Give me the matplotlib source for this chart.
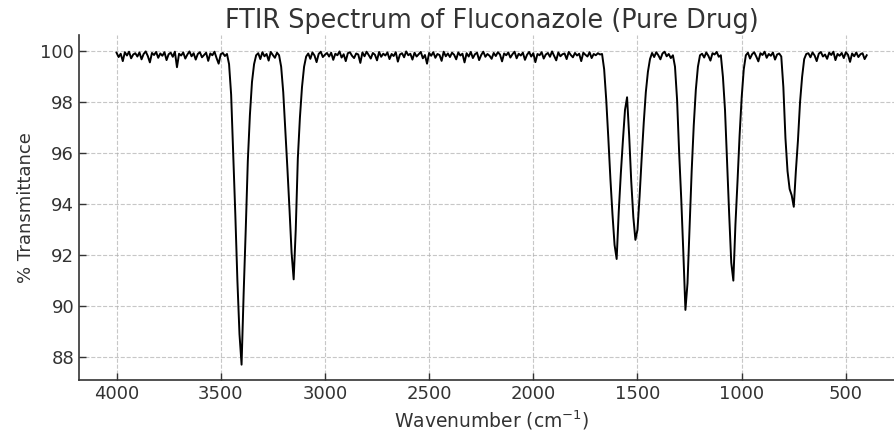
import numpy as np
import matplotlib
matplotlib.use("Agg")
import matplotlib.pyplot as plt

# wavenumber grid, 4000 -> 400 cm-1 every 10 cm-1
wavenumber = np.arange(4000, 399, -10)

# % transmittance, region by region
flat_4000_3480 = [
    99.95, 99.78, 99.91, 99.62, 99.97, 99.84, 99.99, 99.73, 99.88, 99.93,
    99.80, 99.96, 99.69, 99.90, 100.0, 99.82, 99.57, 99.94, 99.86, 99.98,
    99.75, 99.92, 99.83, 99.97, 99.66, 99.89, 99.95, 99.79, 99.99, 99.38,
    99.91, 99.84, 99.96, 99.72, 99.88, 100.0, 99.81, 99.93, 99.68, 99.90,
    99.97, 99.77, 99.86, 99.95, 99.63, 99.92, 99.85, 99.99, 99.74, 99.52,
    99.89, 99.94, 99.82,
]
band_3400 = [99.9, 99.5, 98.3, 96.0, 93.6, 91.0, 88.9, 87.7, 90.5, 93.0,
             95.7, 97.5, 98.8, 99.5, 99.85]
flat_3320_3230 = [99.93, 99.70, 99.97, 99.81, 99.90, 99.64, 99.98, 99.86,
                  99.75, 99.95]
band_3150 = [99.85, 99.4, 98.4, 96.9, 95.4, 93.8, 92.1, 91.05, 93.0, 95.8,
             97.4, 98.6, 99.4, 99.8]
flat_3080_1680 = [
    99.92, 99.71, 99.96, 99.84, 99.58, 99.90, 99.99, 99.78, 99.87, 99.94,
    99.80, 99.95, 99.67, 99.91, 99.85, 100.0, 99.76, 99.89, 99.62, 99.93,
    99.97, 99.83, 99.74, 99.92, 99.88, 99.55, 99.96, 99.81, 99.99, 99.86,
    99.72, 99.94, 99.87, 99.65, 99.98, 99.79, 99.91, 99.84, 99.96, 99.70,
    99.90, 99.82, 99.97, 99.60, 99.88, 99.93, 99.77, 100.0, 99.85, 99.91,
    99.68, 99.95, 99.80, 99.89, 99.98, 99.73, 99.86, 99.52, 99.94, 99.83,
    99.97, 99.75, 99.90, 99.86, 99.63, 99.99, 99.81, 99.92, 99.78, 99.95,
    99.87, 99.69, 99.96, 99.84, 99.91, 99.57, 99.93, 99.80, 99.98, 99.74,
    99.89, 99.95, 99.66, 99.86, 99.99, 99.79, 99.90, 99.83, 99.71, 99.94,
    99.82, 99.97, 99.88, 99.61, 99.92, 99.85, 99.96, 99.76, 99.89, 99.99,
    99.73, 99.91, 99.84, 99.95, 99.67, 99.87, 99.98, 99.80, 99.93, 99.58,
    99.90, 99.85, 99.97, 99.72, 99.88, 99.94, 99.79, 100.0, 99.83, 99.65,
    99.96, 99.81, 99.89, 99.92, 99.70, 99.98, 99.86, 99.77, 99.94, 99.84,
    99.91, 99.62, 99.95, 99.87, 99.80, 99.97, 99.74, 99.90, 99.85, 99.93,
    99.88,
]
band_1600_1510 = [99.9, 99.3, 98.1, 96.6, 95.0, 93.6, 92.4, 91.85, 93.7, 95.2,
                  96.5, 97.7, 98.2, 96.7, 94.9, 93.5, 92.6, 93.0, 94.3, 95.8,
                  97.2, 98.4, 99.2, 99.7]
flat_1430_1340 = [99.94, 99.78, 99.97, 99.85, 99.69, 99.92, 99.99, 99.81,
                  99.90, 99.74]
band_1270 = [99.85, 99.4, 98.1, 96.0, 94.2, 92.1, 89.85, 90.9, 93.1, 95.3,
             97.1, 98.5, 99.4, 99.85]
flat_1190_1110 = [99.91, 99.76, 99.96, 99.83, 99.64, 99.93, 99.88, 99.98,
                  99.79]
band_1040 = [99.85, 99.0, 97.7, 95.6, 93.6, 91.7, 91.0, 93.2, 94.9, 96.7,
             98.2, 99.3, 99.85]
flat_970_820 = [99.95, 99.72, 99.89, 99.97, 99.80, 99.61, 99.93, 99.86,
                99.99, 99.75, 99.90, 99.83, 99.96, 99.68, 99.88, 99.92]
band_750 = [99.8, 98.6, 96.6, 95.3, 94.6, 94.35, 93.9, 95.3, 96.5, 98.0,
            99.0, 99.7, 99.9]
flat_680_400 = [
    99.93, 99.77, 99.96, 99.84, 99.62, 99.91, 99.98, 99.80, 99.88, 99.71,
    99.95, 99.86, 99.99, 99.66, 99.90, 99.83, 99.94, 99.74, 99.97, 99.87,
    99.59, 99.92, 99.81, 99.96, 99.78, 99.89, 99.93, 99.70, 99.85,
]

transmittance = np.array(
    flat_4000_3480 + band_3400 + flat_3320_3230 + band_3150 + flat_3080_1680
    + band_1600_1510 + flat_1430_1340 + band_1270 + flat_1190_1110
    + band_1040 + flat_970_820 + band_750 + flat_680_400
)

plt.rcParams["font.family"] = "DejaVu Sans"

fig = plt.figure(figsize=(8.95, 4.37), dpi=100)
ax = fig.add_axes([0.0883, 0.130, 0.922, 0.789])

ax.plot(wavenumber, transmittance, color="black", linewidth=1.4)

ax.set_xlim(4180, 220)
ax.set_ylim(87.09, 100.63)
ax.set_xticks([4000, 3500, 3000, 2500, 2000, 1500, 1000, 500])
ax.set_yticks([88, 90, 92, 94, 96, 98, 100])

ax.grid(True, linestyle="--", color="#b0b0b0", linewidth=0.8, alpha=0.7)
ax.spines["top"].set_visible(False)
ax.spines["right"].set_visible(False)
for s in ("left", "bottom"):
    ax.spines[s].set_color("#333333")
    ax.spines[s].set_linewidth(1.2)
ax.tick_params(colors="#333333", labelsize=13, direction="in", length=5,
               width=1)

ax.set_title("FTIR Spectrum of Fluconazole (Pure Drug)", fontsize=18.4,
             color="#333333", pad=5)
ax.set_xlabel("Wavenumber (cm$^{-1}$)", fontsize=13.5, color="#333333")
ax.set_ylabel("% Transmittance", fontsize=13, color="#333333")

fig.savefig("out.png", dpi=100)
